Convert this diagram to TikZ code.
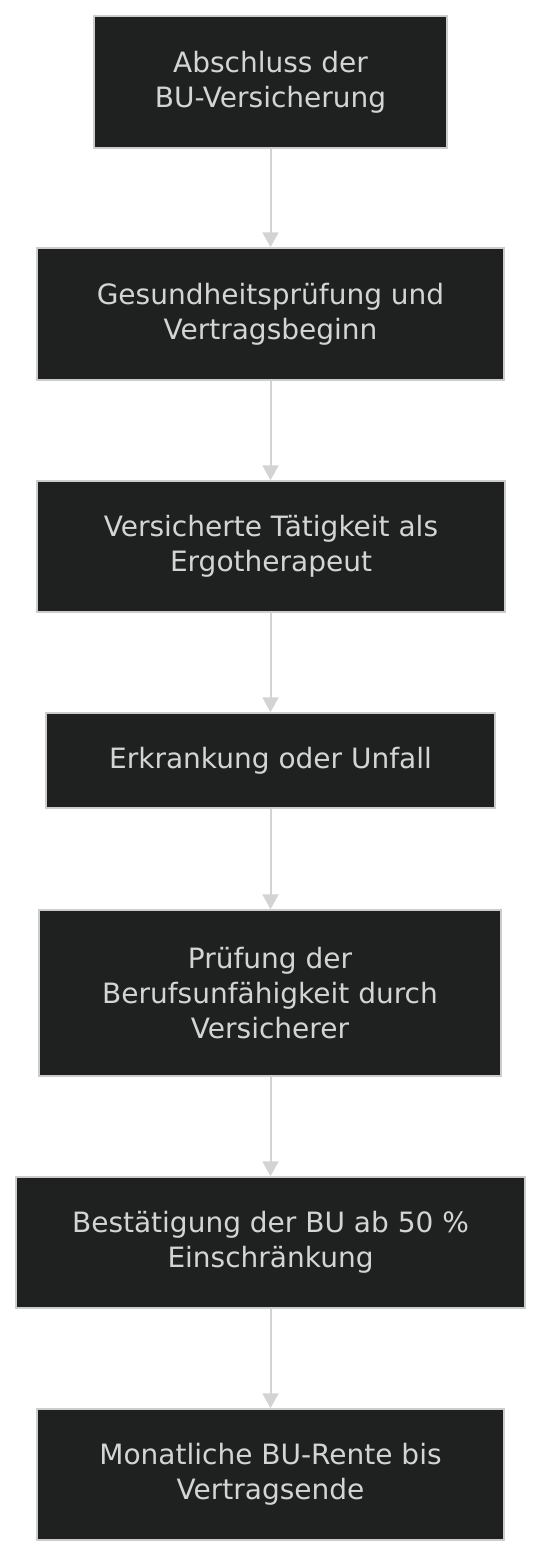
\documentclass[tikz,border=0pt]{standalone}
\usepackage{fontspec}
\setmainfont{DejaVu Sans}
\usepackage{xcolor}
\usetikzlibrary{arrows.meta, positioning}

\definecolor{boxfill}{HTML}{1F2020}
\definecolor{boxline}{HTML}{CCCCCC}
\definecolor{boxtext}{HTML}{D4D4D4}
\definecolor{flowline}{HTML}{D3D3D3}

\begin{document}
\begin{tikzpicture}[
  x=1pt, y=1pt,
  stepbox/.style={draw=boxline, line width=1.5pt, fill=boxfill, text=boxtext, align=center, inner sep=0pt,
    font=\fontsize{28}{35}\selectfont},
  arr/.style={-{Triangle[length=15pt, width=16pt]}, line width=2pt, flowline},
]
\useasboundingbox (0,0) rectangle (542,-1558);

% Knoten
\node[stepbox, minimum width=353, minimum height=132] (abschluss) at (270.5,-82) {Abschluss der\\BU-Versicherung};
\node[stepbox, minimum width=467, minimum height=132] (pruefung) at (270.5,-314) {Gesundheitsprüfung und\\Vertragsbeginn};
\node[stepbox, minimum width=468, minimum height=131] (taetigkeit) at (271,-546.5) {Versicherte Tätigkeit als\\Ergotherapeut};
\node[stepbox, minimum width=449, minimum height=95] (erkrankung) at (270.5,-760.5) {Erkrankung oder Unfall};
\node[stepbox, minimum width=462, minimum height=166] (bu) at (270,-993) {Prüfung der\\Berufsunfähigkeit durch\\Versicherer};
\node[stepbox, minimum width=509, minimum height=131] (bestaetigung) at (270.5,-1242.5) {Bestätigung der BU ab 50 \%\\Einschränkung};
\node[stepbox, minimum width=467, minimum height=131] (rente) at (270.5,-1474.5) {Monatliche BU-Rente bis\\Vertragsende};

% Kanten
\draw[arr] (abschluss) -- (abschluss.south |- pruefung.north);
\draw[arr] (pruefung) -- (abschluss.south |- taetigkeit.north);
\draw[arr] (abschluss.south |- taetigkeit.south) -- (abschluss.south |- erkrankung.north);
\draw[arr] (abschluss.south |- erkrankung.south) -- (abschluss.south |- bu.north);
\draw[arr] (abschluss.south |- bu.south) -- (abschluss.south |- bestaetigung.north);
\draw[arr] (bestaetigung) -- (abschluss.south |- rente.north);

\end{tikzpicture}
\end{document}
